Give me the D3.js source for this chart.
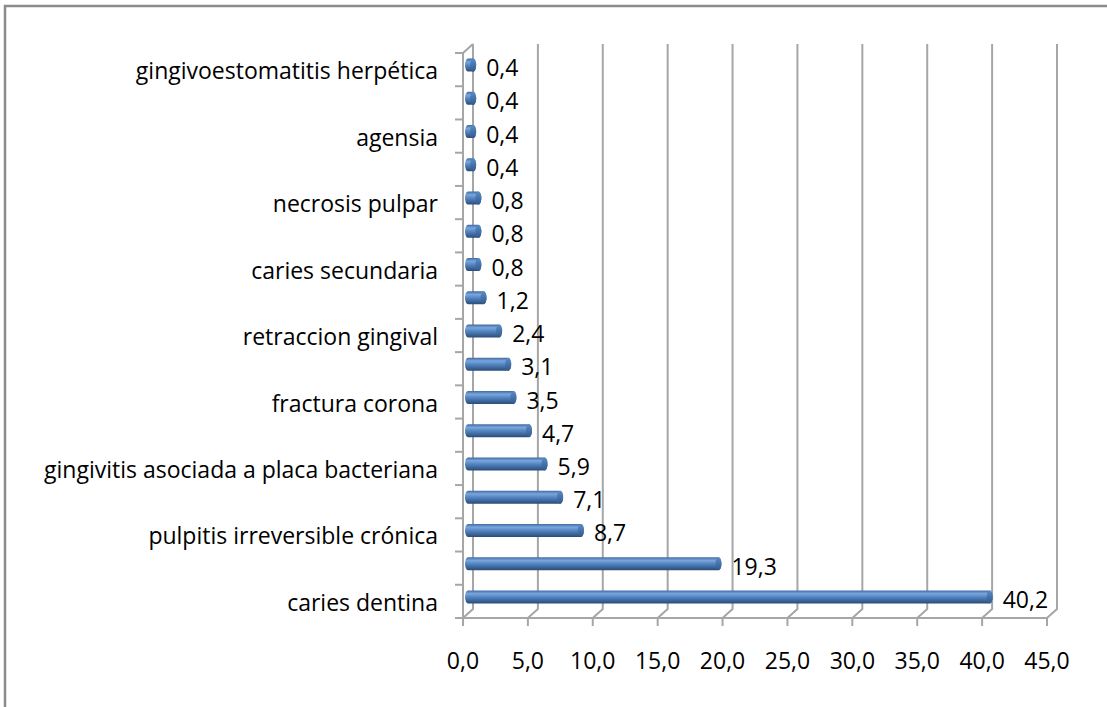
<!DOCTYPE html>
<html>
<head>
<meta charset="utf-8">
<script src="https://cdn.jsdelivr.net/npm/d3@7"></script>
<style>
  body { margin: 0; background: #fff; }
  text { font-family: "Open Sans", sans-serif; fill: #000; }
</style>
</head>
<body>
<div id="chart"></div>
<script>
// categories from bottom to top (alternate names are hidden in the original)
var categories = ["caries dentina", "", "pulpitis irreversible crónica", "", "gingivitis asociada a placa bacteriana", "",
    "fractura corona", "", "retraccion gingival", "", "caries secundaria", "", "necrosis pulpar", "", "agensia", "",
    "gingivoestomatitis herpética"];
var values = [40.2, 19.3, 8.7, 7.1, 5.9, 4.7, 3.5, 3.1, 2.4, 1.2, 0.8, 0.8, 0.8, 0.4, 0.4, 0.4, 0.4];
var xTicks = [0, 5, 10, 15, 20, 25, 30, 35, 40, 45];

var makeVis = function() {
    var width = 1107, height = 707;
    var plotLeft = 463, plotRight = 1047, plotTop = 53, plotBottom = 618;
    var dx = 10, dy = -9;   // depth of the 3d wall
    var fontSize = 23;

    var fmt = function(v) { return d3.format(".1f")(v).replace(".", ","); };

    var svg = d3.select("#chart").append("svg")
        .attr("width", width)
        .attr("height", height);

    // outer frame
    svg.append("rect")
        .attr("x", 5).attr("y", 6)
        .attr("width", 1120).attr("height", 720)
        .attr("fill", "none")
        .attr("stroke", "#8c8c8c")
        .attr("stroke-width", 2.5);

    var xScale = d3.scaleLinear().domain([0, 45]).range([plotLeft, plotRight]);
    var n = categories.length;
    var bandH = (plotBottom - plotTop) / n;
    var barH = 13;

    var grid = svg.append("g").attr("stroke", "#a6a6a6").attr("stroke-width", 2).attr("fill", "none");

    // back wall gridlines with floor diagonals
    xTicks.forEach(function(t) {
        var x = xScale(t);
        grid.append("path")
            .attr("d", "M" + (x + dx) + "," + (plotTop + dy) + "V" + (plotBottom + dy) + "L" + x + "," + plotBottom);
    });
    // left wall: front axis and top diagonal, floor front edge
    grid.append("path")
        .attr("d", "M" + (plotLeft + dx) + "," + (plotTop + dy) + "L" + plotLeft + "," + plotTop +
            "V" + plotBottom + "H" + plotRight);

    // y tick marks at band boundaries
    d3.range(n + 1).forEach(function(i) {
        var y = plotBottom - i * bandH;
        grid.append("line").attr("x1", plotLeft - 8).attr("x2", plotLeft).attr("y1", y).attr("y2", y);
    });
    // x tick marks
    xTicks.forEach(function(t) {
        grid.append("line").attr("x1", xScale(t)).attr("x2", xScale(t))
            .attr("y1", plotBottom).attr("y2", plotBottom + 8);
    });

    // x tick labels
    svg.append("g").selectAll("text")
        .data(xTicks)
        .enter().append("text")
        .attr("x", function(d) { return xScale(d); })
        .attr("y", 661)
        .attr("dy", "0.35em")
        .attr("text-anchor", "middle")
        .style("font-size", fontSize + "px")
        .text(fmt);

    // category labels
    svg.append("g").selectAll("text")
        .data(categories)
        .enter().append("text")
        .attr("x", 438)
        .attr("y", function(d, i) { return plotBottom - (i + 0.5) * bandH + 1.5; })
        .attr("dy", "0.35em")
        .attr("text-anchor", "end")
        .style("font-size", fontSize + "px")
        .text(function(d) { return d; });

    // cylinder gradient
    var defs = svg.append("defs");
    var grad = defs.append("linearGradient").attr("id", "cyl")
        .attr("x1", 0).attr("x2", 0).attr("y1", 0).attr("y2", 1);
    grad.append("stop").attr("offset", "0%").attr("stop-color", "#3d6aa3");
    grad.append("stop").attr("offset", "25%").attr("stop-color", "#7aa6dd");
    grad.append("stop").attr("offset", "55%").attr("stop-color", "#4f81bd");
    grad.append("stop").attr("offset", "100%").attr("stop-color", "#2a4c78");
    var capGrad = defs.append("linearGradient").attr("id", "cap")
        .attr("x1", 0).attr("x2", 0).attr("y1", 0).attr("y2", 1);
    capGrad.append("stop").attr("offset", "0%").attr("stop-color", "#5b8cc8");
    capGrad.append("stop").attr("offset", "100%").attr("stop-color", "#33598a");

    var bars = svg.append("g").selectAll("g")
        .data(values)
        .enter().append("g");

    var cy = function(i) { return plotBottom - (i + 0.5) * bandH + dy / 2; };
    var x0 = xScale(0) + dx / 2;

    bars.append("path")
        .attr("d", function(d, i) {
            var xe = xScale(d) + dx / 2, y = cy(i), r = barH / 2;
            return "M" + x0 + "," + (y - r) + "H" + xe + "A3," + r + " 0 0 1 " + xe + "," + (y + r) +
                "H" + x0 + "A3," + r + " 0 0 1 " + x0 + "," + (y - r) + "Z";
        })
        .attr("fill", "url(#cyl)");

    bars.append("ellipse")
        .attr("cx", function(d) { return xScale(d) + dx / 2; })
        .attr("cy", function(d, i) { return cy(i); })
        .attr("rx", 3)
        .attr("ry", barH / 2)
        .attr("fill", "url(#cap)");

    // value labels
    bars.append("text")
        .attr("x", function(d) { return xScale(d) + dx / 2 + 13; })
        .attr("y", function(d, i) { return cy(i) + 3; })
        .attr("dy", "0.35em")
        .style("font-size", fontSize + "px")
        .text(function(d) { return fmt(d); });
};

makeVis();
</script>
</body>
</html>
